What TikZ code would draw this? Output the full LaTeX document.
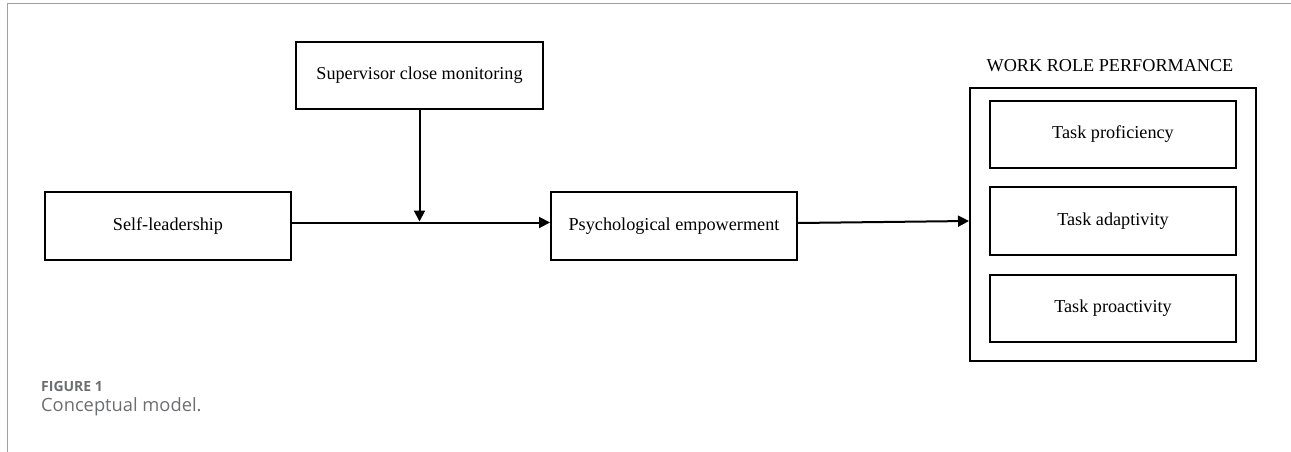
\documentclass[tikz,border=0pt]{standalone}
\usepackage{fontspec}
\setmainfont{Liberation Serif}
\newfontfamily\capfont{Open Sans}
\usetikzlibrary{arrows.meta}
\definecolor{capgray}{HTML}{6D6E71}
\definecolor{framegray}{HTML}{A0A0A0}
\begin{document}
\begin{tikzpicture}[x=1pt,y=-1pt,
  box/.style={draw,line width=2pt,inner sep=0pt,font=\fontsize{18.2}{20}\selectfont},
  conn/.style={line width=2pt,-{Triangle[length=11pt,width=11pt]}}]
\useasboundingbox (0,0) rectangle (1291,452);
\draw[framegray,line width=1.6pt] (7.5,452) -- (7.5,3.5) -- (1291,3.5);
\node[box,minimum width=247pt,minimum height=67pt] (sup) at (419.5,75.5) {Supervisor close monitoring};
\node[box,minimum width=246pt,minimum height=68pt] (self) at (168,226) {Self-leadership};
\node[box,minimum width=246pt,minimum height=68pt] (psy) at (674,226) {Psychological empowerment};
\node[draw,line width=2pt,minimum width=286pt,minimum height=273pt,inner sep=0pt] (wrp) at (1113,224.5) {};
\node[font=\fontsize{18.2}{20}\selectfont] (title) at (1110,66) {WORK ROLE PERFORMANCE};
\node[box,minimum width=246pt,minimum height=67pt] (prof) at (1113,134.5) {Task proficiency};
\node[box,minimum width=246pt,minimum height=68pt] (adap) at (1113,221) {Task adaptivity};
\node[box,minimum width=246pt,minimum height=67pt] (proa) at (1113,308.5) {Task proactivity};
\coordinate (junc) at (sup.south |- 0,221.5);
\draw[conn] ([yshift=3.5pt]self.east) -- ([yshift=3.5pt]psy.west);
\draw[conn] (sup.south) -- (junc);
\draw[conn] ([yshift=3pt]psy.east) -- ([yshift=3.5pt]wrp.west);
\node[anchor=west,text=capgray,font=\capfont\bfseries\fontsize{14}{16}\selectfont,inner sep=0pt] (fig) at (41,386) {FIGURE 1};
\node[anchor=west,text=capgray,font=\capfont\fontsize{18.3}{21}\selectfont,inner sep=0pt] (cap) at (41,407) {Conceptual model.};
\end{tikzpicture}
\end{document}
